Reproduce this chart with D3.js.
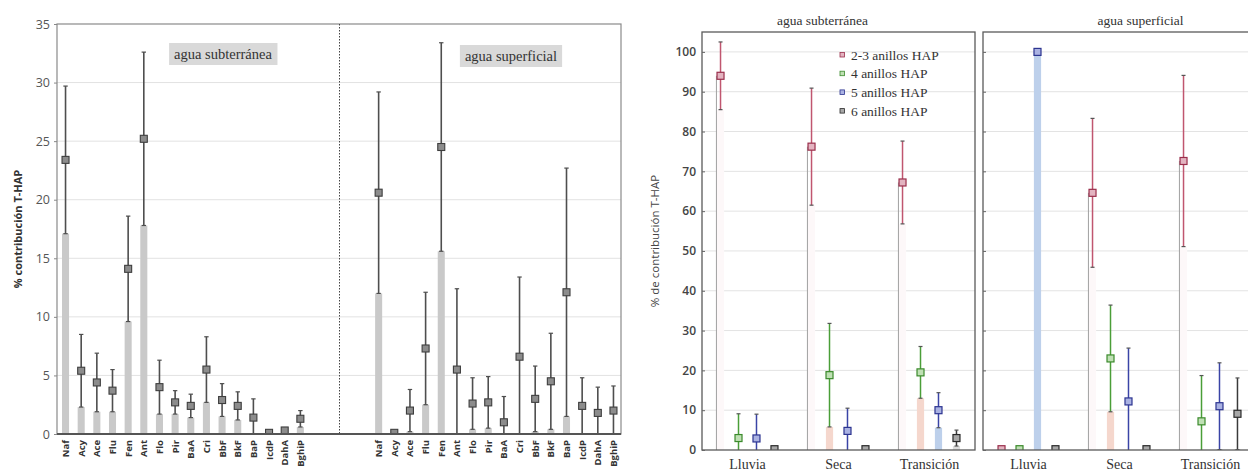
<!DOCTYPE html>
<html>
<head>
<meta charset="utf-8">
<script src="https://cdn.jsdelivr.net/npm/d3@7"></script>
<style>
  body { margin: 0; background: #fff; }
  svg { display: block; }
</style>
</head>
<body>
<script>
// ---------------- DATA ----------------
// Left chart: % contribution of each PAH to T-HAP (mean, sd)
const compounds = ["Naf","Acy","Ace","Flu","Fen","Ant","Flo","Pir","BaA","Cri","BbF","BkF","BaP","IcdP","DahA","BghiP"];
const subMean = [23.4, 5.4, 4.4, 3.7, 14.1, 25.2, 4.0, 2.7, 2.4, 5.5, 2.9, 2.4, 1.4, 0.1, 0.3, 1.3];
const subSd   = [6.3, 3.1, 2.5, 1.8, 4.5, 7.4, 2.3, 1.0, 1.0, 2.8, 1.4, 1.2, 1.6, 0.1, 0.2, 0.7];
const supMean = [20.6, 0.1, 2.0, 7.3, 24.5, 5.5, 2.6, 2.7, 1.0, 6.6, 3.0, 4.5, 12.1, 2.4, 1.8, 2.0];
const supSd   = [8.6, 0.05, 1.8, 4.8, 8.9, 6.9, 2.2, 2.2, 2.2, 6.8, 2.8, 4.1, 10.6, 2.4, 2.2, 2.1];
const leftTicks = [0, 5, 10, 15, 20, 25, 30, 35];

// Right chart: % contribution by ring number, per season (mean, sd)
const seasons = ["Lluvia", "Seca", "Transición"];
const ringGroups = ["2-3 anillos HAP", "4 anillos HAP", "5 anillos HAP", "6 anillos HAP"];
// agua subterránea
const sub23Mean = [94.0, 76.2, 67.2]; const sub23Sd = [8.5, 14.7, 10.4];
const sub4Mean  = [3.0, 18.8, 19.5];  const sub4Sd  = [6.1, 13.0, 6.5];
const sub5Mean  = [2.9, 4.8, 10.0];   const sub5Sd  = [6.1, 5.7, 4.4];
const sub6Mean  = [0.2, 0.2, 3.0];    const sub6Sd  = [0, 0, 2.0];
// agua superficial
const sup23Mean = [0.2, 64.6, 72.6];  const sup23Sd = [0, 18.7, 21.5];
const sup4Mean  = [0.2, 23.0, 7.2];   const sup4Sd  = [0, 13.4, 11.5];
const sup5Mean  = [100, 12.2, 11.0];  const sup5Sd  = [0, 13.4, 10.9];
const sup6Mean  = [0.2, 0.2, 9.1];    const sup6Sd  = [0, 0, 9.0];
const rightTicks = [0, 10, 20, 30, 40, 50, 60, 70, 80, 90, 100];

// ---------------- STYLES ----------------
const ringLine   = ["#c0566f", "#4a9e38", "#3a44a6", "#3a3a3a"];
const ringStroke = ["#9a2f4c", "#3b8a2c", "#2c3490", "#2a2a2a"];
const ringFill   = ["#e3b3c0", "#bfe0b4", "#aab2e2", "#a8a8a8"];
const ringBar    = ["#fdf8f9", "#f5d7cd", "#bdd0eb", "#dcdcdc"];

const svg = d3.select("body").append("svg").attr("width", 1248).attr("height", 473);
const defs = svg.append("defs");

// ================= LEFT CHART =================
const L = { x0: 57, x1: 621, y0: 24, y1: 434 };
const xKeys = [...compounds.map(c => "g|" + c), "gap1", "gap2", "gap3", "gap4", ...compounds.map(c => "s|" + c)];
const xL = d3.scaleBand().domain(xKeys).range([L.x0, L.x1 + 1]).paddingInner(0.55).paddingOuter(0.32);
const yL = d3.scaleLinear().domain([0, 35]).range([L.y1, L.y0]);

defs.append("clipPath").attr("id", "clipL").append("rect")
  .attr("x", L.x0).attr("y", L.y0).attr("width", L.x1 - L.x0).attr("height", L.y1 - L.y0);

const gL = svg.append("g");
gL.selectAll("line.grid").data(leftTicks.filter(t => t > 0 && t < 35)).join("line")
  .attr("x1", L.x0).attr("x2", L.x1).attr("y1", d => yL(d)).attr("y2", d => yL(d))
  .attr("stroke", "#e2e2e2").attr("stroke-width", 1);

gL.append("rect").attr("x", L.x0).attr("y", L.y0).attr("width", L.x1 - L.x0).attr("height", L.y1 - L.y0)
  .attr("fill", "none").attr("stroke", "#8a8a8a").attr("stroke-width", 1.2);

const yAxisL = gL.append("g").attr("transform", `translate(${L.x0},0)`)
  .call(d3.axisLeft(yL).tickValues(leftTicks).tickSize(3).tickPadding(4));
yAxisL.select(".domain").remove();
yAxisL.selectAll("line").attr("stroke", "#888");
yAxisL.selectAll("text").attr("fill", "#555").style("font-family", "'Open Sans', sans-serif").style("font-size", "12.5px");

gL.append("text").attr("transform", `translate(22,${(L.y0 + L.y1) / 2}) rotate(-90)`)
  .attr("text-anchor", "middle").attr("fill", "#333")
  .style("font-family", "'Open Sans', sans-serif").style("font-size", "11px").style("font-weight", "bold")
  .text("% contribución T-HAP");

// separator (dotted)
const bw = xL.bandwidth();
const sepX = (xL("gap2") + xL("gap3")) / 2 + bw / 2;
gL.append("line").attr("x1", sepX).attr("x2", sepX).attr("y1", L.y0).attr("y2", L.y1)
  .attr("stroke", "#444").attr("stroke-width", 1).attr("stroke-dasharray", "1.5,1.5");

const leftData = [
  ...compounds.map((c, i) => ({ key: "g|" + c, label: c, mean: subMean[i], sd: subSd[i] })),
  ...compounds.map((c, i) => ({ key: "s|" + c, label: c, mean: supMean[i], sd: supSd[i] }))
];

const gLD = gL.append("g").attr("clip-path", "url(#clipL)");
gLD.selectAll("rect.bar").data(leftData).join("rect")
  .attr("x", d => xL(d.key)).attr("width", bw)
  .attr("y", d => yL(Math.max(0, d.mean - d.sd)))
  .attr("height", d => yL(0) - yL(Math.max(0, d.mean - d.sd)))
  .attr("fill", "#c9c9c9");
gLD.selectAll("line.err").data(leftData).join("line")
  .attr("x1", d => xL(d.key) + bw / 2).attr("x2", d => xL(d.key) + bw / 2)
  .attr("y1", d => yL(Math.max(0, d.mean - d.sd))).attr("y2", d => yL(d.mean + d.sd))
  .attr("stroke", "#4e4e4e").attr("stroke-width", 1.6);
gLD.selectAll("line.capU").data(leftData).join("line")
  .attr("x1", d => xL(d.key) + bw / 2 - 2.2).attr("x2", d => xL(d.key) + bw / 2 + 2.2)
  .attr("y1", d => yL(d.mean + d.sd)).attr("y2", d => yL(d.mean + d.sd))
  .attr("stroke", "#4e4e4e").attr("stroke-width", 1.2);
gLD.selectAll("line.capD").data(leftData.filter(d => d.mean - d.sd > 0)).join("line")
  .attr("x1", d => xL(d.key) + bw / 2 - 2.2).attr("x2", d => xL(d.key) + bw / 2 + 2.2)
  .attr("y1", d => yL(d.mean - d.sd)).attr("y2", d => yL(d.mean - d.sd))
  .attr("stroke", "#4e4e4e").attr("stroke-width", 1.2);
gLD.selectAll("rect.mk").data(leftData).join("rect")
  .attr("x", d => xL(d.key) + bw / 2 - 3.5).attr("y", d => yL(d.mean) - 3.5)
  .attr("width", 7).attr("height", 7)
  .attr("fill", "#8c8c8c").attr("stroke", "#3e3e3e").attr("stroke-width", 1.1);

gL.append("line").attr("x1", L.x0).attr("x2", L.x1).attr("y1", L.y1).attr("y2", L.y1)
  .attr("stroke", "#555").attr("stroke-width", 2);

gL.selectAll("text.xl").data(leftData).join("text")
  .attr("transform", d => `translate(${xL(d.key) + bw / 2 + 3.5},${L.y1 + 6}) rotate(-90)`)
  .attr("text-anchor", "end").attr("fill", "#333")
  .style("font-family", "'Open Sans', sans-serif").style("font-size", "9.5px").style("font-weight", "bold")
  .text(d => d.label);

function labelBox(cx, cy, txt) {
  const g = gL.append("g");
  const t = g.append("text").attr("x", cx).attr("y", cy).attr("text-anchor", "middle").attr("dy", "0.35em")
    .attr("fill", "#333").style("font-family", "'Liberation Serif', serif").style("font-size", "14.5px").text(txt);
  const b = t.node().getBBox();
  g.insert("rect", "text").attr("x", b.x - 5).attr("y", cy - 11).attr("width", b.width + 10).attr("height", 22)
    .attr("fill", "#d9d9d9");
}
labelBox(223, 54, "agua subterránea");
labelBox(511, 56, "agua superficial");

// ================= RIGHT CHART =================
const R = { y0: 32, y1: 450, w: 273 };
const yR = d3.scaleLinear().domain([0, 105]).range([R.y1, R.y0]);
const panels = [
  { title: "agua subterránea", x0: 702, titleDx: -16, ticks: true,
    means: [sub23Mean, sub4Mean, sub5Mean, sub6Mean], sds: [sub23Sd, sub4Sd, sub5Sd, sub6Sd] },
  { title: "agua superficial", x0: 983, titleDx: 21, ticks: false,
    means: [sup23Mean, sup4Mean, sup5Mean, sup6Mean], sds: [sup23Sd, sup4Sd, sup5Sd, sup6Sd] }
];

panels.forEach((p, pi) => {
  const g = svg.append("g");
  const xS = d3.scaleBand().domain(seasons).range([p.x0, p.x0 + R.w]);
  const xI = d3.scaleBand().domain(ringGroups).range([0, xS.bandwidth()]).paddingInner(0.6).paddingOuter(0.83);
  const ib = xI.bandwidth();
  const cid = "clipR" + pi;
  defs.append("clipPath").attr("id", cid).append("rect")
    .attr("x", p.x0).attr("y", R.y0).attr("width", R.w).attr("height", R.y1 - R.y0);

  g.selectAll("line.grid").data(rightTicks.filter(t => t > 0)).join("line")
    .attr("x1", p.x0).attr("x2", p.x0 + R.w).attr("y1", d => yR(d)).attr("y2", d => yR(d))
    .attr("stroke", "#e3e3e3").attr("stroke-width", 1);

  const data = [];
  seasons.forEach((s, si) => ringGroups.forEach((r, ri) => {
    data.push({ season: s, ring: r, ri, mean: p.means[ri][si], sd: p.sds[ri][si],
      cx: xS(s) + xI(r) + ib / 2 });
  }));
  const gd = g.append("g").attr("clip-path", `url(#${cid})`);
  gd.selectAll("rect.bar").data(data).join("rect")
    .attr("x", d => d.cx - ib / 2).attr("width", ib)
    .attr("y", d => yR(Math.max(0, d.mean - d.sd)))
    .attr("height", d => yR(0) - yR(Math.max(0, d.mean - d.sd)))
    .attr("fill", d => ringBar[d.ri]);
  gd.selectAll("line.edge").data(data.filter(d => d.ri === 0 && d.mean > 1)).join("line")
    .attr("x1", d => d.cx - ib / 2 - 0.5).attr("x2", d => d.cx - ib / 2 - 0.5)
    .attr("y1", d => yR(0)).attr("y2", d => yR(d.mean))
    .attr("stroke", "#a0a0a0").attr("stroke-width", 1);
  gd.selectAll("line.err").data(data.filter(d => d.sd > 0)).join("line")
    .attr("x1", d => d.cx).attr("x2", d => d.cx)
    .attr("y1", d => yR(Math.max(0, d.mean - d.sd))).attr("y2", d => yR(d.mean + d.sd))
    .attr("stroke", d => ringLine[d.ri]).attr("stroke-width", 1.5);
  gd.selectAll("line.capU").data(data.filter(d => d.sd > 0)).join("line")
    .attr("x1", d => d.cx - 2).attr("x2", d => d.cx + 2)
    .attr("y1", d => yR(d.mean + d.sd)).attr("y2", d => yR(d.mean + d.sd))
    .attr("stroke", "#555").attr("stroke-width", 1.2);
  gd.selectAll("line.capD").data(data.filter(d => d.sd > 0 && d.mean - d.sd > 0)).join("line")
    .attr("x1", d => d.cx - 2).attr("x2", d => d.cx + 2)
    .attr("y1", d => yR(d.mean - d.sd)).attr("y2", d => yR(d.mean - d.sd))
    .attr("stroke", "#555").attr("stroke-width", 1.2);
  gd.selectAll("rect.mk").data(data).join("rect")
    .attr("x", d => d.cx - 3.5).attr("y", d => yR(d.mean) - 3.5).attr("width", 7).attr("height", 7)
    .attr("fill", d => ringFill[d.ri]).attr("stroke", d => ringStroke[d.ri]).attr("stroke-width", 1.2);

  g.append("rect").attr("x", p.x0).attr("y", R.y0).attr("width", R.w).attr("height", R.y1 - R.y0)
    .attr("fill", "none").attr("stroke", "#5a5a5a").attr("stroke-width", 1.3);

  // inward ticks
  const ax = g.append("g").attr("transform", `translate(${p.x0},0)`)
    .call(d3.axisRight(yR).tickValues(rightTicks).tickSize(3).tickFormat(""));
  ax.select(".domain").remove();
  ax.selectAll("line").attr("stroke", "#666");

  if (p.ticks) {
    g.selectAll("text.yt").data(rightTicks).join("text")
      .attr("x", p.x0 - 6).attr("y", d => yR(d)).attr("dy", "0.35em").attr("text-anchor", "end")
      .attr("fill", "#444").style("font-family", "'Open Sans', sans-serif").style("font-size", "12px")
      .style("font-weight", "600").text(d => d);
  }

  g.selectAll("text.xs").data(seasons).join("text")
    .attr("x", d => xS(d) + xS.bandwidth() / 2).attr("y", 469).attr("text-anchor", "middle")
    .attr("fill", "#333").style("font-family", "'Liberation Serif', serif").style("font-size", "14px")
    .text(d => d);

  g.append("text").attr("x", p.x0 + R.w / 2 + p.titleDx).attr("y", 25).attr("text-anchor", "middle")
    .attr("fill", "#333").style("font-family", "'Liberation Serif', serif").style("font-size", "13.5px")
    .text(p.title);
});

svg.append("text").attr("transform", `translate(659,${(R.y0 + R.y1) / 2}) rotate(-90)`)
  .attr("text-anchor", "middle").attr("fill", "#444")
  .style("font-family", "'Open Sans', sans-serif").style("font-size", "11.5px")
  .text("% de contribución T-HAP");

// legend
const lg = svg.append("g");
ringGroups.forEach((r, i) => {
  const y = 55 + i * 18.7;
  lg.append("rect").attr("x", 840).attr("y", y - 2.5).attr("width", 4.5).attr("height", 4.5)
    .attr("fill", ringFill[i]).attr("stroke", ringStroke[i]).attr("stroke-width", 0.8);
  lg.append("text").attr("x", 851).attr("y", y).attr("dy", "0.35em").attr("fill", "#333")
    .style("font-family", "'Liberation Serif', serif").style("font-size", "13.5px").text(r);
});
</script>
</body>
</html>
